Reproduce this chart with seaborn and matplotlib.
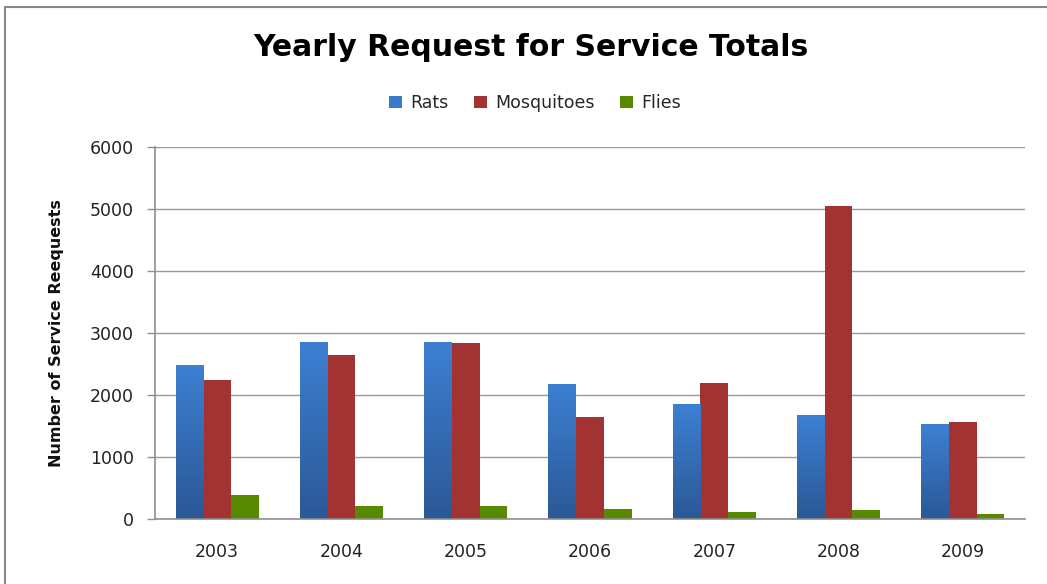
import numpy as np
import pandas as pd
import matplotlib
matplotlib.use("Agg")
import matplotlib.pyplot as plt
from matplotlib.lines import Line2D
from matplotlib.colors import LinearSegmentedColormap
import seaborn as sns

# Yearly request totals by pest type
years = ["2003", "2004", "2005", "2006", "2007", "2008", "2009"]
rats = [2490, 2860, 2860, 2180, 1855, 1680, 1530]
mosquitoes = [2240, 2645, 2845, 1650, 2195, 5055, 1560]
flies = [380, 210, 210, 160, 115, 145, 80]
series = ["Rats", "Mosquitoes", "Flies"]
palette = {"Rats": "#3a7acb", "Mosquitoes": "#a33233", "Flies": "#578a00"}

df = pd.DataFrame({
    "Year": years * 3,
    "Series": [s for s in series for _ in years],
    "Requests": rats + mosquitoes + flies,
})

sns.set_theme(style="white")
plt.rcParams["font.family"] = ["DejaVu Sans"]

W, H = 1047, 584
fig = plt.figure(figsize=(W / 100, H / 100), dpi=100)
ax = fig.add_axes([155 / W, 65 / H, (1025 - 155) / W, (519 - 147) / H])

sns.barplot(data=df, x="Year", y="Requests", hue="Series", hue_order=series,
            palette=palette, width=0.67, saturation=1, ax=ax, linewidth=0)

# vertical gradient on the Rats bars (lighter top, darker bottom)
grad_cmap = LinearSegmentedColormap.from_list("ratgrad", ["#2b5896", "#3d80d3"])
grad = np.linspace(0, 1, 256).reshape(-1, 1)
for bar in ax.containers[0]:
    x0, y0 = bar.get_x(), bar.get_y()
    w, h = bar.get_width(), bar.get_height()
    im = ax.imshow(grad, cmap=grad_cmap, origin="lower", aspect="auto",
                   extent=[x0, x0 + w, y0, y0 + h], zorder=bar.get_zorder())
    im.set_clip_path(bar)
    bar.set_facecolor("none")

ax.set_xlim(-0.5, 6.5)
ax.set_ylim(0, 6000)
ax.set_yticks(range(0, 6001, 1000))
ax.set_axisbelow(True)
ax.yaxis.grid(True, color="#999999", linewidth=1)
for side in ["top", "right"]:
    ax.spines[side].set_visible(False)
for side in ["left", "bottom"]:
    ax.spines[side].set_color("#8f8f8f")
    ax.spines[side].set_linewidth(1.2)
ax.tick_params(axis="y", length=6, color="#8f8f8f", width=1, direction="out",
               labelsize=12.5, labelcolor="#222222", pad=9, left=True)
ax.tick_params(axis="x", length=0, labelsize=12.5, labelcolor="#222222", pad=17)
ax.set_xlabel("")
ax.set_ylabel("Number of Service Reequests", fontsize=11.5, fontweight="bold",
              color="#111111")
ax.yaxis.set_label_coords(-0.105, 0.5)

sns.move_legend(ax, "center", bbox_to_anchor=(535 / W, 1 - 103 / H),
                bbox_transform=fig.transFigure, ncol=3, frameon=False, title=None,
                fontsize=12.5, handlelength=0.75, handleheight=0.75,
                handletextpad=0.45, columnspacing=1.5)

fig.text(531 / W, 1 - 48 / H, "Yearly Request for Service Totals",
         ha="center", va="center", fontsize=21.5, fontweight="bold", color="#000000")

# outer chart frame
frame_kw = dict(color="#888888", linewidth=1.5, transform=fig.transFigure)
fig.add_artist(Line2D([5 / W, 5 / W], [0, 1 - 7 / H], **frame_kw))
fig.add_artist(Line2D([5 / W, 1], [1 - 7 / H, 1 - 7 / H], **frame_kw))

fig.savefig("out.png", dpi=100)
